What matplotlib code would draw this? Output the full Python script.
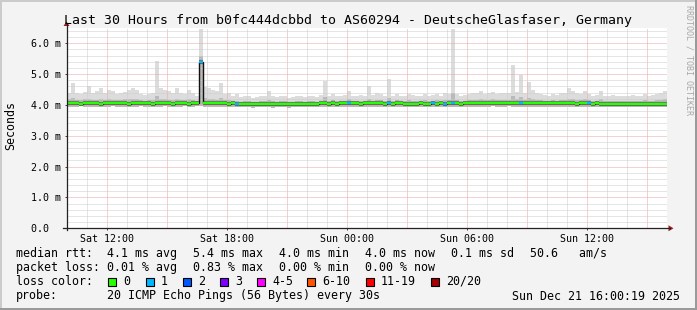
import numpy as np
import matplotlib.pyplot as plt
from matplotlib.patches import Rectangle, Polygon
from matplotlib.lines import Line2D

W, H = 697, 310
MONO = 'DejaVu Sans Mono'

# 12-minute bins over the last 30 hours (Sat 10:00 -> Sun 16:00), rtt in ms
rtt_max = [
    4.40, 4.72, 4.38, 4.35, 4.42, 4.60, 4.38, 4.45, 4.55, 4.40,
    4.50, 4.45, 4.35, 4.38, 4.42, 4.50, 4.55, 4.48, 4.35, 4.32,
    4.35, 4.40, 5.42, 4.55, 4.50, 4.45, 4.38, 4.55, 4.40, 4.35,
    4.50, 4.38, 4.30, 6.45, 4.58, 4.55, 4.50, 4.45, 4.70, 4.35,
    4.40, 4.30, 4.35, 4.25, 4.28, 4.30, 4.22, 4.25, 4.30, 4.28,
    4.45, 4.30, 4.25, 4.28, 4.30, 4.22, 4.25, 4.30, 4.28, 4.25,
    4.28, 4.30, 4.25, 4.32, 4.79, 4.30, 4.35, 4.28, 4.30, 4.32,
    4.45, 4.30, 4.28, 4.32, 4.30, 4.60, 4.32, 4.40, 4.35, 4.30,
    4.84, 4.30, 4.35, 4.28, 4.30, 4.35, 4.32, 4.28, 4.30, 4.35,
    4.30, 4.32, 4.35, 4.30, 4.38, 4.35, 6.45, 4.35, 4.30, 4.32,
    4.35, 4.40, 4.38, 4.45, 4.35, 4.38, 4.42, 4.35, 4.40, 4.38,
    4.40, 5.30, 4.42, 4.97, 4.40, 4.75, 4.50, 4.38, 4.35, 4.32,
    4.30, 4.35, 4.32, 4.40, 4.38, 4.55, 4.45, 4.40, 4.35, 4.45,
    4.35, 4.30, 4.32, 4.45, 4.30, 4.28, 4.32, 4.30, 4.28, 4.30,
    4.30, 4.32, 4.28, 4.30, 4.35, 4.30, 4.32, 4.35, 4.38, 4.45,
]
rtt_hi = [
    4.18, 4.22, 4.16, 4.15, 4.18, 4.20, 4.16, 4.17, 4.20, 4.16,
    4.18, 4.17, 4.15, 4.16, 4.18, 4.19, 4.20, 4.18, 4.15, 4.14,
    4.15, 4.16, 4.30, 4.20, 4.18, 4.17, 4.15, 4.19, 4.16, 4.15,
    4.18, 4.15, 4.14, 5.60, 4.22, 4.20, 4.18, 4.17, 4.22, 4.15,
    4.16, 4.12, 4.13, 4.11, 4.12, 4.12, 4.10, 4.11, 4.12, 4.12,
    4.16, 4.12, 4.11, 4.12, 4.13, 4.10, 4.11, 4.13, 4.12, 4.11,
    4.12, 4.13, 4.11, 4.14, 4.25, 4.13, 4.15, 4.12, 4.13, 4.14,
    4.18, 4.13, 4.12, 4.14, 4.13, 4.20, 4.14, 4.16, 4.15, 4.13,
    4.22, 4.13, 4.15, 4.12, 4.13, 4.15, 4.14, 4.12, 4.13, 4.15,
    4.13, 4.14, 4.15, 4.13, 4.16, 4.15, 4.40, 4.15, 4.13, 4.14,
    4.15, 4.17, 4.16, 4.19, 4.15, 4.16, 4.18, 4.15, 4.17, 4.16,
    4.17, 4.30, 4.18, 4.25, 4.17, 4.22, 4.19, 4.16, 4.15, 4.14,
    4.13, 4.15, 4.14, 4.17, 4.16, 4.20, 4.18, 4.17, 4.15, 4.18,
    4.15, 4.13, 4.14, 4.18, 4.13, 4.12, 4.14, 4.13, 4.12, 4.13,
    4.13, 4.14, 4.12, 4.13, 4.15, 4.13, 4.14, 4.15, 4.16, 4.18,
]
rtt_min = [
    3.95, 3.94, 3.95, 3.96, 3.95, 3.94, 3.95, 3.95, 3.94, 3.95,
    3.95, 3.96, 3.95, 3.94, 3.95, 3.95, 3.94, 3.95, 3.96, 3.95,
    3.95, 3.94, 3.95, 3.95, 3.96, 3.95, 3.94, 3.95, 3.95, 3.96,
    3.95, 3.95, 3.96, 3.97, 3.95, 3.94, 3.95, 3.95, 3.94, 3.95,
    3.94, 3.93, 3.92, 3.92, 3.93, 3.92, 3.91, 3.92, 3.92, 3.93,
    3.92, 3.91, 3.92, 3.93, 3.92, 3.91, 3.92, 3.93, 3.93, 3.92,
    3.93, 3.92, 3.93, 3.94, 3.94, 3.93, 3.94, 3.93, 3.94, 3.94,
    3.95, 3.94, 3.94, 3.93, 3.94, 3.94, 3.95, 3.94, 3.94, 3.93,
    3.94, 3.93, 3.94, 3.94, 3.93, 3.93, 3.92, 3.93, 3.94, 3.93,
    3.93, 3.94, 3.93, 3.94, 3.93, 3.94, 3.92, 3.94, 3.93, 3.94,
    3.94, 3.95, 3.95, 3.94, 3.95, 3.95, 3.96, 3.95, 3.95, 3.95,
    3.96, 3.95, 3.95, 3.95, 3.94, 3.95, 3.95, 3.94, 3.95, 3.94,
    3.94, 3.95, 3.94, 3.94, 3.95, 3.94, 3.94, 3.93, 3.94, 3.94,
    3.94, 3.93, 3.94, 3.93, 3.93, 3.92, 3.93, 3.93, 3.92, 3.93,
    3.93, 3.92, 3.93, 3.93, 3.92, 3.93, 3.93, 3.92, 3.93, 3.93,
]
rtt_median = [
    4.05, 4.06, 4.05, 4.04, 4.05, 4.06, 4.05, 4.05, 4.04, 4.05,
    4.06, 4.05, 4.05, 4.06, 4.05, 4.04, 4.05, 4.06, 4.05, 4.05,
    4.05, 4.04, 4.05, 4.06, 4.05, 4.05, 4.04, 4.05, 4.05, 4.05,
    4.04, 4.05, 4.05, 5.40, 4.05, 4.06, 4.05, 4.05, 4.06, 4.05,
    4.04, 4.05, 4.03, 4.02, 4.03, 4.02, 4.02, 4.03, 4.02, 4.03,
    4.03, 4.02, 4.03, 4.04, 4.03, 4.02, 4.03, 4.03, 4.04, 4.03,
    4.04, 4.03, 4.04, 4.05, 4.05, 4.04, 4.05, 4.04, 4.05, 4.05,
    4.06, 4.05, 4.05, 4.04, 4.05, 4.05, 4.06, 4.05, 4.05, 4.04,
    4.05, 4.04, 4.05, 4.05, 4.04, 4.04, 4.03, 4.04, 4.05, 4.04,
    4.04, 4.05, 4.04, 4.05, 4.04, 4.05, 4.06, 4.05, 4.04, 4.05,
    4.05, 4.06, 4.07, 4.06, 4.07, 4.06, 4.07, 4.06, 4.07, 4.06,
    4.07, 4.06, 4.07, 4.06, 4.06, 4.07, 4.06, 4.05, 4.06, 4.05,
    4.05, 4.06, 4.05, 4.05, 4.06, 4.05, 4.05, 4.04, 4.05, 4.05,
    4.05, 4.04, 4.05, 4.04, 4.04, 4.03, 4.04, 4.04, 4.03, 4.04,
    4.04, 4.03, 4.04, 4.04, 4.03, 4.04, 4.04, 4.03, 4.04, 4.04,
]
# bins where 1 of 20 pings was lost
loss_bins = [33, 42, 70, 80, 91, 94, 96, 113, 130]

tick_hours = [2, 8, 14, 20, 26]
tick_labels = ["Sat 12:00", "Sat 18:00", "Sun 00:00", "Sun 06:00", "Sun 12:00"]
y_labels = ["0.0  ", "1.0 m", "2.0 m", "3.0 m", "4.0 m", "5.0 m", "6.0 m"]

loss_names = ["0", "1", "2", "3", "4-5", "6-10", "11-19", "20/20"]
loss_colors = ['#26ff00', '#00b8ff', '#0059ff', '#7e00ff', '#ff00ff',
               '#ff5500', '#ff0000', '#a00000']

title = "Last 30 Hours from b0fc444dcbbd to AS60294 - DeutscheGlasfaser, Germany"
rtt_stats = ["4.1 ms avg", "5.4 ms max", "4.0 ms min", "4.0 ms now", "0.1 ms sd", "50.6   am/s"]
loss_stats = ["0.01 % avg", "0.83 % max", "0.00 % min", "0.00 % now"]
probe = "20 ICMP Echo Pings (56 Bytes) every 30s"
stamp = "Sun Dec 21 16:00:19 2025"


def fx(x):
    return x / W


def fy(y):
    return 1 - y / H


fig = plt.figure(figsize=(W / 100, H / 100), dpi=100, facecolor='#f3f3f3')

# shaded frame round the image
for (x, y, w, h, c) in [(0, 0, W, 2, '#cbcbcb'), (0, 0, 2, H, '#cbcbcb'),
                        (0, H - 2, W, 2, '#9a9a9a'), (W - 2, 0, 2, H, '#9a9a9a')]:
    fig.add_artist(Rectangle((fx(x), fy(y + h)), w / W, h / H, color=c,
                             lw=0, transform=fig.transFigure))

x0, x1, y0, y1 = 66.5, 666.5, 228.3, 27.9
ax = fig.add_axes([fx(x0), fy(y0), (x1 - x0) / W, (y0 - y1) / H])
ax.set_xlim(0, 30)
ax.set_ylim(0, 6.5)
ax.set_facecolor('white')
for s in ax.spines.values():
    s.set_visible(False)

# smoke
n = len(rtt_median)
edges = np.arange(n + 1) * 0.2
ax.stairs(rtt_max, edges, baseline=rtt_min, fill=True, color='#dcdcdc', lw=0, zorder=1)
ax.stairs(rtt_hi, edges, baseline=rtt_min, fill=True, color='#bababa', lw=0, zorder=1)

# grid
dots = (0, (1, 1))
for h in range(1, 30):
    major = h % 3 == 2
    ax.axvline(h, color='#eaa6a6' if major else '#cdcdcd', lw=0.72, ls=dots, zorder=2)
for k in range(1, 33):
    major = k % 5 == 0
    ax.axhline(k * 0.2, color='#eaa6a6' if major else '#cdcdcd', lw=0.72, ls=dots, zorder=2)

# median, coloured by loss
cols = [loss_colors[1] if i in loss_bins else loss_colors[0] for i in range(n)]
ax.hlines(rtt_median, edges[:-1], edges[1:], color='#707070', lw=3.0, zorder=3)
ax.stairs(rtt_median, edges, baseline=None, color='#111111', lw=1.0, zorder=4)
ax.hlines(rtt_median, edges[:-1], edges[1:], colors=cols, lw=1.7, zorder=5)

ax.set_xticks(tick_hours, tick_labels)
ax.set_yticks(range(7), y_labels)
ax.tick_params(axis='x', length=1.5, width=0.72, color='#444444', pad=2.9, labelsize=7.2)
ax.tick_params(axis='y', length=1.5, width=0.72, color='#444444', pad=2.5, labelsize=7.2)
for lbl in ax.get_xticklabels() + ax.get_yticklabels():
    lbl.set_family(MONO)

# axes with arrows
fig.add_artist(Line2D([fx(x0), fx(x0)], [fy(y0 + 2), fy(24)], color='#222222', lw=0.9,
                      transform=fig.transFigure))
fig.add_artist(Line2D([fx(63), fx(670)], [fy(y0), fy(y0)], color='#222222', lw=0.9,
                      transform=fig.transFigure))
arrow = '#9b1c1c'
fig.add_artist(Polygon([(fx(x0), fy(21.5)), (fx(x0 - 3), fy(26)), (fx(x0 + 3), fy(26))],
                       closed=True, color=arrow, lw=0, transform=fig.transFigure))
fig.add_artist(Polygon([(fx(673.5), fy(y0)), (fx(668.5), fy(y0 - 3)), (fx(668.5), fy(y0 + 3))],
                       closed=True, color=arrow, lw=0, transform=fig.transFigure))

# texts
fig.text(0.5, fy(24), title, family=MONO, size=9.5, ha='center', va='baseline')
fig.text(fx(10.5), fy(126), "Seconds", family=MONO, size=8.4, rotation=90,
         ha='center', va='center')
fig.text(fx(689), fy(5), "RRDTOOL / TOBI OETIKER", family=MONO, size=6,
         color='#a8a8a8', rotation=270, ha='center', va='top')

col_x = [107.3, 193.3, 279.3, 365, 451, 530]
fs = 8.37
fig.text(fx(16), fy(257), "median rtt:", family=MONO, size=fs, va='baseline')
for x, s in zip(col_x, rtt_stats):
    fig.text(fx(x), fy(257), s, family=MONO, size=fs, va='baseline')
fig.text(fx(16), fy(271), "packet loss:", family=MONO, size=fs, va='baseline')
for x, s in zip(col_x, loss_stats):
    fig.text(fx(x), fy(271), s, family=MONO, size=fs, va='baseline')

fig.text(fx(16), fy(285), "loss color:", family=MONO, size=fs, va='baseline')
sq_x = [108, 146, 183, 220, 257, 307, 366, 431]
for x, name, c in zip(sq_x, loss_names, loss_colors):
    fig.add_artist(Rectangle((fx(x), fy(285.5)), 8 / W, 8 / H, facecolor=c,
                             edgecolor='black', lw=0.8, transform=fig.transFigure))
    fig.text(fx(x + 15), fy(285), name, family=MONO, size=fs, va='baseline')

fig.text(fx(16), fy(299.5), "probe:", family=MONO, size=fs, va='baseline')
fig.text(fx(col_x[0]), fy(299.5), probe, family=MONO, size=fs, va='baseline')
fig.text(fx(680), fy(299.5), stamp, family=MONO, size=fs, ha='right', va='baseline')

fig.savefig('out.png', dpi=100, facecolor=fig.get_facecolor())
